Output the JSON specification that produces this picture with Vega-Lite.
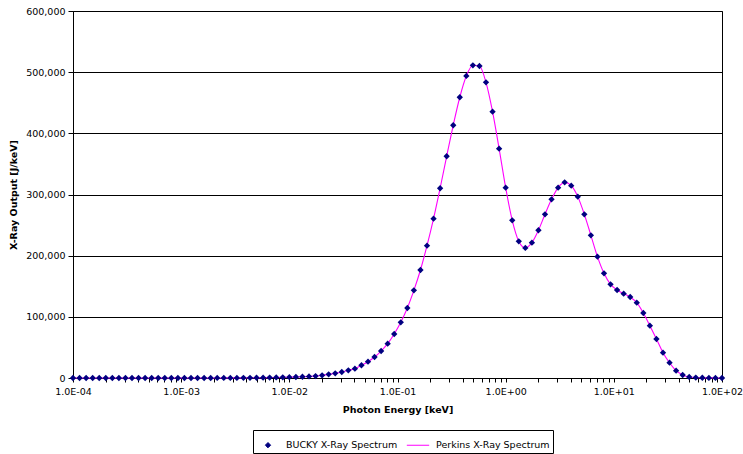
{
  "$schema": "https://vega.github.io/schema/vega-lite/v6.json",
  "width": 649,
  "height": 367,
  "autosize": {"type": "none"},
  "padding": {"left": 73, "top": 11, "right": 21, "bottom": 76},
  "background": "white",
  "data": {
    "values": [
      {"E": 0.0001, "Y": 0}, {"E": 0.000115, "Y": 0}, {"E": 0.0001322, "Y": 0}, {"E": 0.000152, "Y": 0},
      {"E": 0.0001748, "Y": 0}, {"E": 0.0002009, "Y": 0}, {"E": 0.000231, "Y": 0}, {"E": 0.0002656, "Y": 0},
      {"E": 0.0003054, "Y": 0}, {"E": 0.0003511, "Y": 0}, {"E": 0.0004037, "Y": 0}, {"E": 0.0004642, "Y": 0},
      {"E": 0.0005337, "Y": 0}, {"E": 0.0006136, "Y": 0}, {"E": 0.0007055, "Y": 0}, {"E": 0.0008111, "Y": 0},
      {"E": 0.0009326, "Y": 0}, {"E": 0.001072, "Y": 0}, {"E": 0.001233, "Y": 0}, {"E": 0.001417, "Y": 0},
      {"E": 0.00163, "Y": 0}, {"E": 0.001874, "Y": 50}, {"E": 0.002154, "Y": 80}, {"E": 0.002477, "Y": 110},
      {"E": 0.002848, "Y": 150}, {"E": 0.003275, "Y": 200}, {"E": 0.003765, "Y": 260}, {"E": 0.004329, "Y": 340},
      {"E": 0.004977, "Y": 450}, {"E": 0.005722, "Y": 600}, {"E": 0.006579, "Y": 750}, {"E": 0.007565, "Y": 900},
      {"E": 0.008697, "Y": 1100}, {"E": 0.01, "Y": 1300}, {"E": 0.0115, "Y": 1600}, {"E": 0.01322, "Y": 2000},
      {"E": 0.0152, "Y": 2600}, {"E": 0.01748, "Y": 3200}, {"E": 0.02009, "Y": 4400}, {"E": 0.0231, "Y": 6000},
      {"E": 0.02656, "Y": 7600}, {"E": 0.03054, "Y": 9800}, {"E": 0.03511, "Y": 12500}, {"E": 0.04037, "Y": 15300},
      {"E": 0.04642, "Y": 20800}, {"E": 0.05337, "Y": 26700}, {"E": 0.06136, "Y": 34300}, {"E": 0.07055, "Y": 44100},
      {"E": 0.08111, "Y": 56100}, {"E": 0.09326, "Y": 71900}, {"E": 0.1072, "Y": 91000}, {"E": 0.1233, "Y": 114500},
      {"E": 0.1417, "Y": 143300}, {"E": 0.163, "Y": 176600}, {"E": 0.1874, "Y": 216300}, {"E": 0.2154, "Y": 260500},
      {"E": 0.2477, "Y": 310200}, {"E": 0.2848, "Y": 362500}, {"E": 0.3275, "Y": 413200}, {"E": 0.3765, "Y": 459000},
      {"E": 0.4329, "Y": 493800}, {"E": 0.4977, "Y": 511200}, {"E": 0.5722, "Y": 510100}, {"E": 0.6579, "Y": 483400},
      {"E": 0.7565, "Y": 435400}, {"E": 0.8697, "Y": 374900}, {"E": 1.0, "Y": 311100}, {"E": 1.15, "Y": 257800},
      {"E": 1.322, "Y": 223500}, {"E": 1.52, "Y": 212600}, {"E": 1.748, "Y": 221200}, {"E": 2.009, "Y": 241500},
      {"E": 2.31, "Y": 267600}, {"E": 2.656, "Y": 292100}, {"E": 3.054, "Y": 311200}, {"E": 3.511, "Y": 319900},
      {"E": 4.037, "Y": 314500}, {"E": 4.642, "Y": 296500}, {"E": 5.337, "Y": 267600}, {"E": 6.136, "Y": 233300},
      {"E": 7.055, "Y": 198400}, {"E": 8.111, "Y": 171100}, {"E": 9.326, "Y": 153100}, {"E": 10.72, "Y": 143900},
      {"E": 12.33, "Y": 137900}, {"E": 14.17, "Y": 132400}, {"E": 16.3, "Y": 123200}, {"E": 18.74, "Y": 106300},
      {"E": 21.54, "Y": 85600}, {"E": 24.77, "Y": 63800}, {"E": 28.48, "Y": 41400}, {"E": 32.75, "Y": 25000},
      {"E": 37.65, "Y": 12000}, {"E": 43.29, "Y": 4900}, {"E": 49.77, "Y": 1600}, {"E": 57.22, "Y": 700},
      {"E": 65.79, "Y": 400}, {"E": 75.65, "Y": 200}, {"E": 86.97, "Y": 100}, {"E": 100, "Y": 50}
    ]
  },
  "encoding": {
    "x": {
      "field": "E",
      "type": "quantitative",
      "scale": {"type": "log", "domain": [0.0001, 100], "nice": false},
      "axis": {
        "title": "Photon Energy [keV]",
        "values": [0.0001,0.0002,0.0003,0.0004,0.0005,0.0006,0.0007,0.0008,0.0009,
                   0.001,0.002,0.003,0.004,0.005,0.006,0.007,0.008,0.009,
                   0.01,0.02,0.03,0.04,0.05,0.06,0.07,0.08,0.09,
                   0.1,0.2,0.3,0.4,0.5,0.6,0.7,0.8,0.9,
                   1,2,3,4,5,6,7,8,9,
                   10,20,30,40,50,60,70,80,90,100],
        "labelExpr": "abs(log(datum.value)/LN10 - round(log(datum.value)/LN10)) < 0.000001 ? '1.0E' + (round(log(datum.value)/LN10) < 0 ? '-' : '+') + '0' + abs(round(log(datum.value)/LN10)) : ''",
        "labelOverlap": false,
        "labelFlush": false,
        "grid": false,
        "tickSize": 4,
        "labelPadding": 4,
        "titlePadding": 9
      }
    },
    "y": {
      "field": "Y",
      "type": "quantitative",
      "scale": {"domain": [0, 600000], "nice": false},
      "axis": {
        "title": "X-Ray Output [J/keV]",
        "values": [0, 100000, 200000, 300000, 400000, 500000, 600000],
        "format": ",d",
        "grid": true,
        "tickSize": 5,
        "labelPadding": 3,
        "titlePadding": 7
      }
    }
  },
  "layer": [
    {
      "mark": {"type": "line", "interpolate": "monotone", "strokeWidth": 1.1},
      "encoding": {
        "color": {
          "datum": "Perkins X-Ray Spectrum",
          "type": "nominal",
          "scale": {"domain": ["BUCKY X-Ray Spectrum", "Perkins X-Ray Spectrum"], "range": ["#000080", "#FF00FF"]},
          "legend": {
            "title": null,
            "orient": "none",
            "legendX": 180,
            "legendY": 419,
            "direction": "horizontal",
            "strokeColor": "black",
            "fillColor": "white",
            "padding": 3,
            "columnPadding": 6,
            "symbolSize": 196,
            "labelOffset": 6,
            "encode": {
              "symbols": {
                "update": {
                  "shape": {"signal": "datum.value === 'BUCKY X-Ray Spectrum' ? 'diamond' : 'stroke'"},
                  "fill": {"signal": "datum.value === 'BUCKY X-Ray Spectrum' ? '#000080' : 'transparent'"},
                  "stroke": {"signal": "datum.value === 'BUCKY X-Ray Spectrum' ? '#000080' : '#FF00FF'"},
                  "size": {"signal": "datum.value === 'BUCKY X-Ray Spectrum' ? 28 : 500"},
                  "strokeWidth": {"value": 1},
                  "opacity": {"value": 1}
                }
              }
            }
          }
        }
      }
    },
    {
      "mark": {"type": "point", "shape": "diamond", "filled": true, "size": 40, "opacity": 1},
      "encoding": {
        "color": {"datum": "BUCKY X-Ray Spectrum", "type": "nominal"}
      }
    }
  ],
  "config": {
    "font": "DejaVu Sans",
    "view": {"stroke": "black", "strokeWidth": 1},
    "axis": {
      "domainColor": "black",
      "tickColor": "black",
      "gridColor": "black",
      "gridOpacity": 1,
      "gridWidth": 1,
      "labelColor": "black",
      "labelFont": "DejaVu Sans",
      "labelFontSize": 9.5,
      "titleColor": "black",
      "titleFont": "DejaVu Sans",
      "titleFontSize": 9.5,
      "titleFontWeight": "bold"
    },
    "legend": {
      "labelFont": "DejaVu Sans",
      "labelFontSize": 9.5,
      "labelColor": "black"
    }
  }
}
